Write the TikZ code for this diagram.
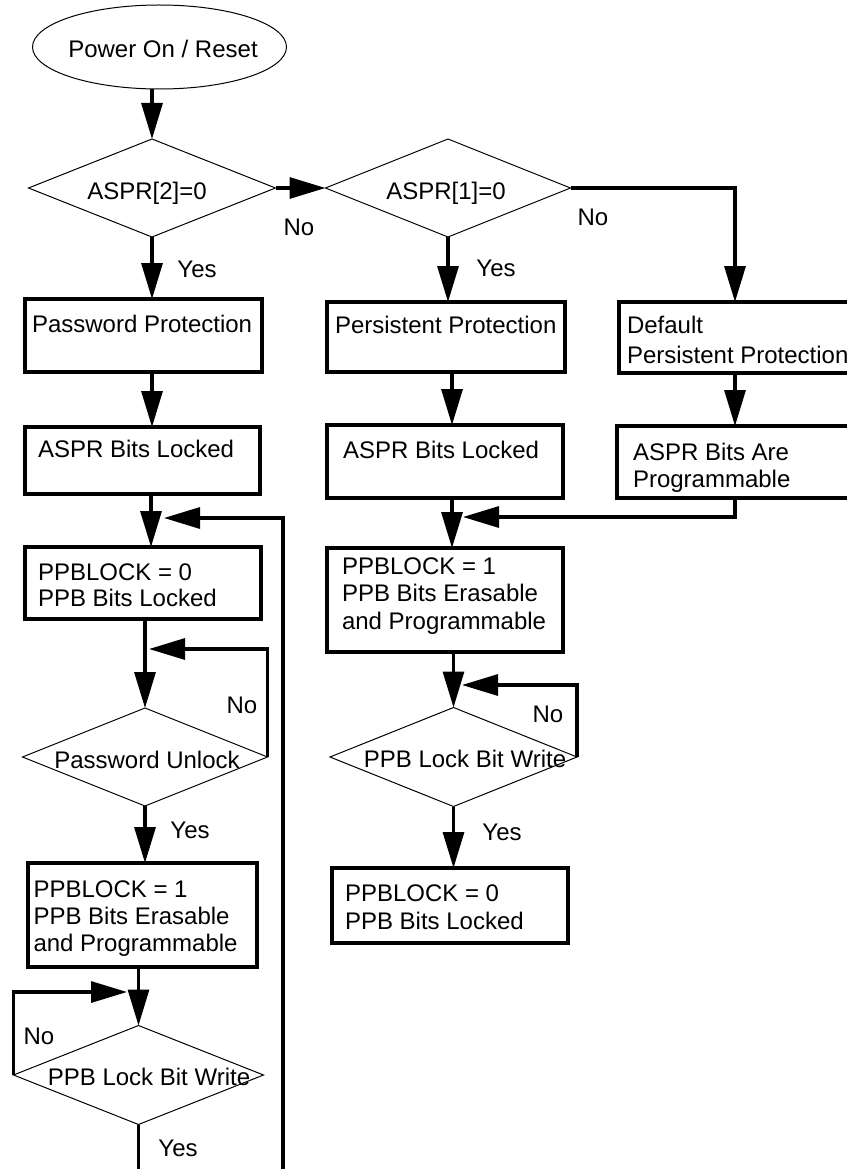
\documentclass[tikz,border=0pt]{standalone}
\usepackage{fontspec}
\setmainfont{Liberation Sans}
\usetikzlibrary{arrows.meta,shapes.geometric}
\begin{document}
\begin{tikzpicture}[x=1pt,y=-1pt,
  every node/.style={inner sep=0pt, outer sep=0pt},
  txt/.style={font=\fontsize{24}{27.5}\selectfont, align=left},
  lbl/.style={font=\fontsize{24}{27.5}\selectfont},
  boxn/.style={draw, line width=3.2pt, rectangle},
  dia/.style={draw, line width=1pt, diamond},
  conn/.style={line width=3.2pt},
  arr/.style={conn, -{Triangle[length=36pt,width=21pt]}},
]
\useasboundingbox (0,0) rectangle (846,1169);

% ---- shapes ----
\node[draw, line width=1pt, ellipse, minimum width=254pt, minimum height=84pt] (start) at (159.5,47) {};
\node[lbl, anchor=base] (startT) at (163,58) {Power On / Reset};

\node[dia, minimum width=247pt, minimum height=98pt] (d1) at (152,188) {};
\node[lbl, anchor=base] (d1T) at (147,200) {ASPR[2]=0};

\node[dia, minimum width=245pt, minimum height=98pt] (d2) at (448,188) {};
\node[lbl, anchor=base] (d2T) at (446,200) {ASPR[1]=0};

% left column
\node[boxn, minimum width=237pt, minimum height=73pt] (b1) at (143.5,335.5) {};
\node[lbl, anchor=base west] (b1T) at (32,332) {Password Protection};

\node[boxn, minimum width=235pt, minimum height=67pt] (b2) at (142.5,460.5) {};
\node[lbl, anchor=base west] (b2T) at (38,457) {ASPR Bits Locked};

\node[boxn, minimum width=236pt, minimum height=72pt] (b3) at (143,583) {};
\node[txt, anchor=north west, font=\fontsize{24}{26}\selectfont] (b3T) at (38,563.7) {PPBLOCK = 0\\PPB Bits Locked};

\node[dia, minimum width=245pt, minimum height=98pt] (d3) at (145,757) {};
\node[lbl, anchor=base] (d3T) at (147,768) {Password Unlock};

\node[boxn, minimum width=229pt, minimum height=104pt] (b4) at (142.5,915) {};
\node[txt, anchor=north west, font=\fontsize{24}{27}\selectfont] (b4T) at (33.5,880.7) {PPBLOCK = 1\\PPB Bits Erasable\\and Programmable};

\node[dia, minimum width=250pt, minimum height=99pt] (d4) at (138.5,1075) {};
\node[lbl, anchor=base] (d4T) at (149,1085) {PPB Lock Bit Write};

% middle column
\node[boxn, minimum width=238pt, minimum height=70pt] (m1) at (446,337) {};
\node[lbl, anchor=base west] (m1T) at (335,333) {Persistent Protection};

\node[boxn, minimum width=236pt, minimum height=73pt] (m2) at (445,461.5) {};
\node[lbl, anchor=base west] (m2T) at (343,458) {ASPR Bits Locked};

\node[boxn, minimum width=236pt, minimum height=104pt] (m3) at (445,600) {};
\node[txt, anchor=north west] (m3T) at (342,557.7) {PPBLOCK = 1\\PPB Bits Erasable\\and Programmable};

\node[dia, minimum width=247pt, minimum height=99pt] (d5) at (453.5,757) {};
\node[lbl, anchor=base] (d5T) at (465,767) {PPB Lock Bit Write};

\node[boxn, minimum width=236pt, minimum height=75pt] (m4) at (450,905.5) {};
\node[txt, anchor=north west, font=\fontsize{24}{28}\selectfont] (m4T) at (345,884.7) {PPBLOCK = 0\\PPB Bits Locked};

% right column
\node[boxn, minimum width=232pt, minimum height=71pt] (r1) at (735,337.5) {};
\node[txt, anchor=north west, font=\fontsize{24}{30}\selectfont] (r1T) at (627,315.7) {Default\\Persistent Protection};

\node[boxn, minimum width=236pt, minimum height=72pt] (r2) at (735,462) {};
\node[txt, anchor=north west, font=\fontsize{24}{27}\selectfont] (r2T) at (633,442.7) {ASPR Bits Are\\Programmable};

% ---- junction coordinates ----
\coordinate (colL) at (151,518);
\coordinate (jL1) at (164,518);
\coordinate (bR) at (283,1169);
\coordinate (jL2) at (149,649);
\coordinate (jL3) at (127,992);
\coordinate (colM) at (452,517);
\coordinate (jM1) at (463,517);
\coordinate (jM2) at (462,685);
\coordinate (botL) at (141,1169);

% ---- connectors ----
\draw[arr] (start.south -| d1.north) -- (d1.north);
\draw[arr] (d1.east) -- (d2.west);
\draw[arr] (d1.south) -- (d1.south |- b1.north);
\draw[arr] (b1.south -| d1.south) -- (b2.north -| d1.south);
\draw[arr] (b2.south -| colL) -- (b3.north -| colL);
\draw[arr] (bR) |- (jL1);
\draw[arr] (b3.south -| d3.north) -- (d3.north);
\draw[arr] (d3.east) |- (jL2);
\draw[arr] (d3.south) -- (d3.south |- b4.north);
\draw[arr] (b4.south -| d4.north) -- (d4.north);
\draw[arr] (d4.west) |- (jL3);
\draw[conn] (d4.south) -- (d4.south |- botL);

\draw[arr] (d2.south) -- (d2.south |- m1.north);
\draw[arr] (m1.south -| colM) -- (m2.north -| colM);
\draw[arr] (m2.south -| colM) -- (m3.north -| colM);
\draw[arr] (r2.south) |- (jM1);
\draw[arr] (m3.south -| d5.north) -- (d5.north);
\draw[arr] (d5.east) |- (jM2);
\draw[arr] (d5.south) -- (d5.south |- m4.north);

\draw[arr] (d2.east) -| (r1.north);
\draw[arr] (r1.south) -- (r2.north);

% ---- labels ----
\node[lbl] (no1) at (299,227) {No};
\node[lbl] (yes1) at (197,269) {Yes};
\node[lbl] (no2) at (593,217) {No};
\node[lbl] (yes2) at (496,268) {Yes};
\node[lbl] (no3) at (242,705) {No};
\node[lbl] (yes3) at (190,830) {Yes};
\node[lbl] (no4) at (39,1036) {No};
\node[lbl] (yes4) at (178,1148) {Yes};
\node[lbl] (no5) at (548,714) {No};
\node[lbl] (yes5) at (502,832) {Yes};
\end{tikzpicture}
\end{document}
